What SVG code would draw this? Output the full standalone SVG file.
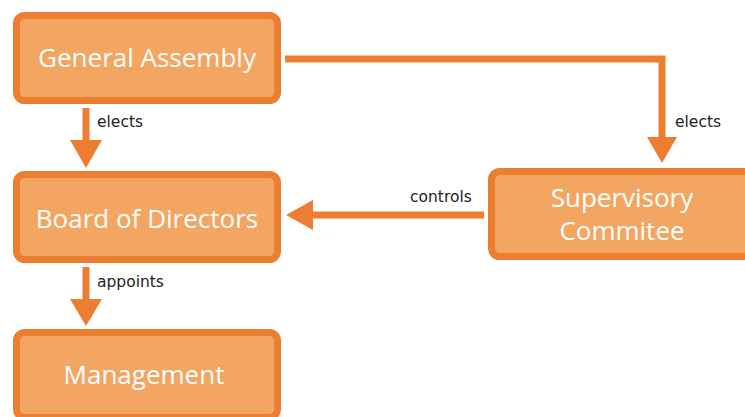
<svg xmlns="http://www.w3.org/2000/svg" width="745" height="417" viewBox="0 0 745 417">
<style>
.box{fill:#F3A562;stroke:#ED7D31;stroke-width:7}
.nt{font-family:"Open Sans","Liberation Sans",sans-serif;font-size:26px;fill:#FFFFFF;text-anchor:middle}
.lb{font-family:"DejaVu Sans","Liberation Sans",sans-serif;font-size:15.5px;fill:#222222}
.ln{fill:none;stroke:#ED7D31;stroke-width:7}
.ah{fill:#ED7D31}
</style>
<rect width="745" height="417" fill="#FFFFFF"/>
<g id="general-assembly">
<rect class="box" x="16.5" y="15.5" width="261" height="85" rx="8"/>
<text class="nt" x="147" y="67">General Assembly</text>
</g>
<g id="board-of-directors">
<rect class="box" x="16.5" y="174.5" width="261" height="85" rx="8"/>
<text class="nt" x="147" y="228">Board of Directors</text>
</g>
<g id="management">
<rect class="box" x="16.5" y="332.5" width="261" height="85" rx="8"/>
<text class="nt" x="144" y="384">Management</text>
</g>
<g id="supervisory-committee">
<rect class="box" x="491.5" y="171.5" width="265" height="85" rx="8"/>
<text class="nt" x="622" y="207">Supervisory</text>
<text class="nt" x="622" y="240">Commitee</text>
</g>
<g id="connectors">
<path class="ln" d="M86 108 V141"/>
<polygon class="ah" points="70,140 102,140 86,168"/>
<text class="lb" x="97" y="127">elects</text>
<path class="ln" d="M86 267 V300"/>
<polygon class="ah" points="70,299 102,299 86,326"/>
<text class="lb" x="97" y="287">appoints</text>
<path class="ln" d="M285 59 H662 V138"/>
<polygon class="ah" points="647,137 677,137 662,163"/>
<text class="lb" x="675" y="127">elects</text>
<path class="ln" d="M484 215 H312"/>
<polygon class="ah" points="313,200 313,230 286,215"/>
<text class="lb" x="410" y="202">controls</text>
</g>
</svg>
